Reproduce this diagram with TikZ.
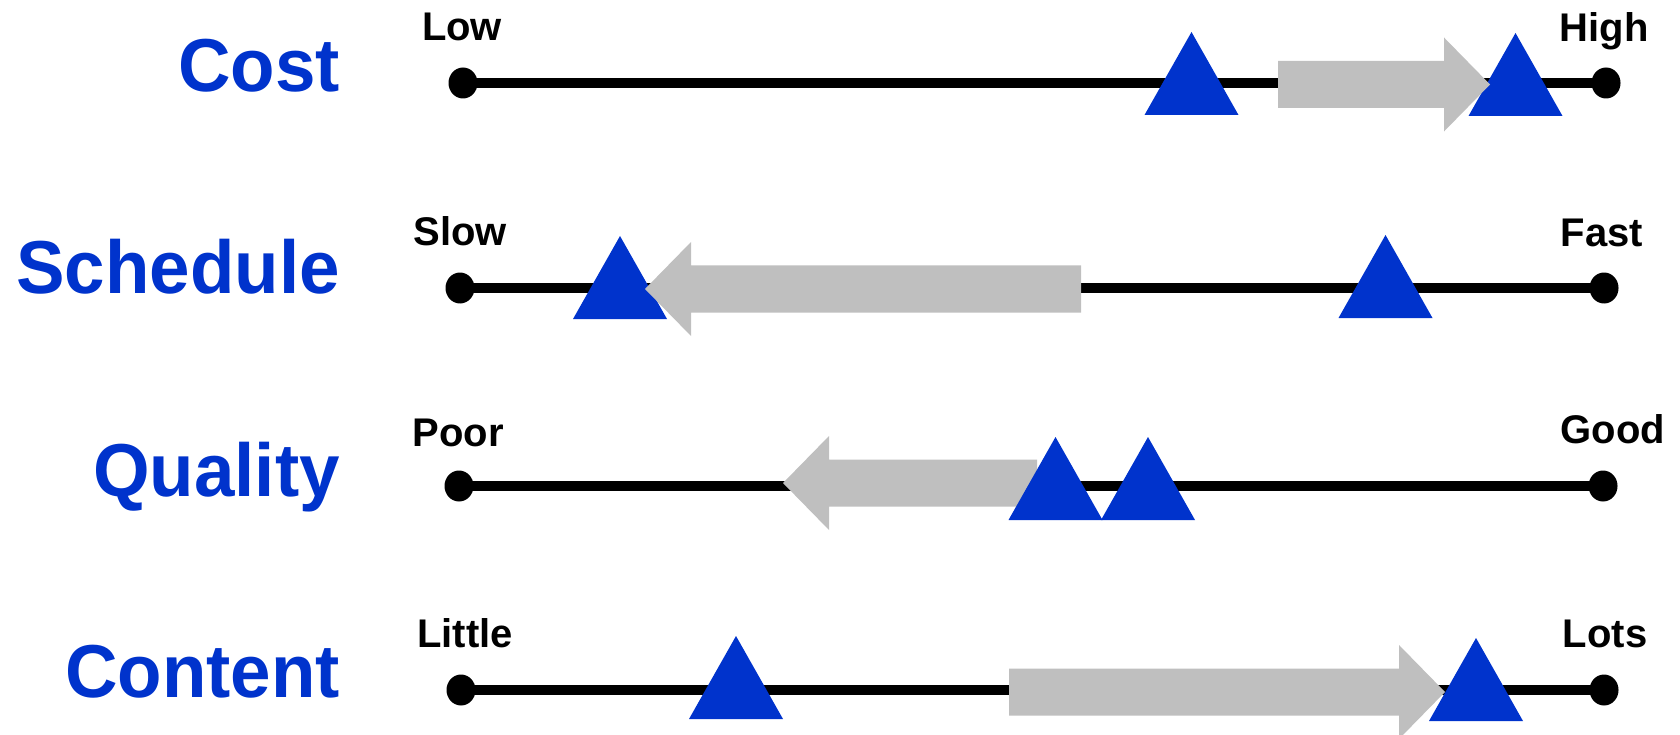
\documentclass[tikz,border=0pt]{standalone}
\usepackage{fontspec}
\setmainfont{Liberation Sans}
\usetikzlibrary{shapes.geometric}
\definecolor{markblue}{RGB}{0,51,204}
\definecolor{shiftgray}{RGB}{191,191,191}
\tikzset{
  axisline/.style={line width=10pt, draw=black},
  enddot/.style={ellipse, fill=black, minimum width=29pt, minimum height=31pt, inner sep=0pt},
  biglabel/.style={anchor=base east, inner sep=0pt, text=markblue, font=\fontsize{75}{78}\selectfont\bfseries},
  endlabel/.style={anchor=base, inner sep=0pt, font=\fontsize{40}{42}\selectfont\bfseries},
  marker/.style={fill=markblue},
  shiftarrow/.style={fill=shiftgray}
}
% horizontally condensed row title
\newcommand\rowtitle[1]{\scalebox{0.97}[1]{#1}}
% blue position marker: base centre x, base y
\newcommand\posmark[2]{%
  \fill[marker] (#1-47,#2) -- (#1,#2-83) -- (#1+47,#2) -- cycle;}
% grey shift arrow: tail x, tip x, centre y
\newcommand\movearrow[3]{%
  \pgfmathsetmacro\hb{#2 + ((#1 > #2) ? 46 : -46)}%
  \fill[shiftarrow] (#1,#3-23.5) -- (\hb,#3-23.5) -- (\hb,#3-47) -- (#2,#3)
    -- (\hb,#3+47) -- (\hb,#3+23.5) -- (#1,#3+23.5) -- cycle;}
\begin{document}
\begin{tikzpicture}[x=1pt,y=-1pt]
\useasboundingbox (0,0) rectangle (1680,735);

% ---- Cost ----
\node[biglabel] (costlbl) at (340,92) {\rowtitle{Cost}};
\node[enddot] (c0) at (463,83) {};
\node[enddot] (c1) at (1606,83) {};
\draw[axisline] (c0.center) -- (c1.center);
\node[endlabel] (clow) at (462,41) {Low};
\node[endlabel] (chigh) at (1604,42) {High};
\posmark{1191.5}{115}
\posmark{1515.5}{116}
\movearrow{1278}{1490}{84.5}

% ---- Schedule ----
\node[biglabel] (schedlbl) at (340,293) {\rowtitle{Schedule}};
\node[enddot] (s0) at (460,288) {};
\node[enddot] (s1) at (1604,288) {};
\draw[axisline] (s0.center) -- (s1.center);
\node[endlabel] (sslow) at (460,246) {Slow};
\node[endlabel] (sfast) at (1602,247) {Fast};
\posmark{620}{319}
\posmark{1385.5}{318}
\movearrow{1081}{645}{289}

% ---- Quality ----
\node[biglabel] (quallbl) at (340,496) {\rowtitle{Quality}};
\node[enddot] (q0) at (459,486) {};
\node[enddot] (q1) at (1603,486) {};
\draw[axisline] (q0.center) -- (q1.center);
\node[endlabel] (qpoor) at (458,446) {Poor};
\node[endlabel] (qgood) at (1613,443) {Good};
\movearrow{1037}{783}{483}
\posmark{1055.5}{520}
\posmark{1148}{520}

% ---- Content ----
\node[biglabel] (contlbl) at (340,697) {\rowtitle{Content}};
\node[enddot] (n0) at (461,690) {};
\node[enddot] (n1) at (1604,690) {};
\draw[axisline] (n0.center) -- (n1.center);
\node[endlabel] (nlittle) at (465,647) {Little};
\node[endlabel] (nlots) at (1605,647) {Lots};
\movearrow{1009}{1445}{692}
\posmark{736}{719}
\posmark{1476}{721}
\end{tikzpicture}
\end{document}
